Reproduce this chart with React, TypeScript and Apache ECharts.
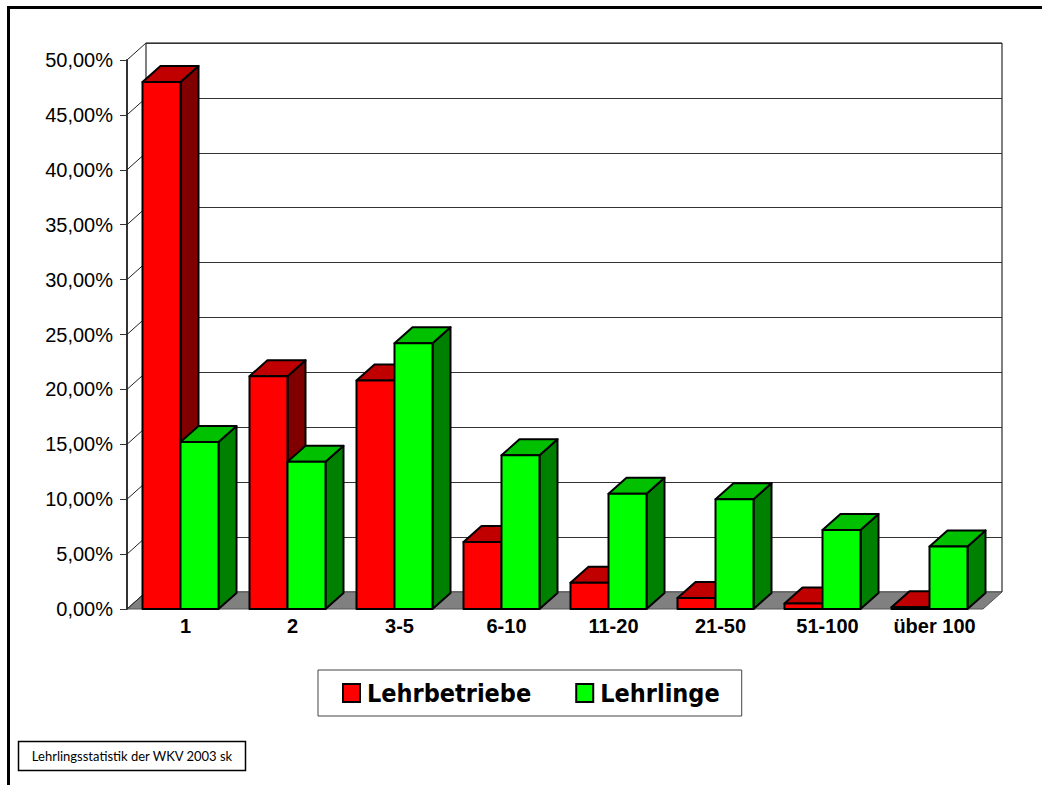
import React, { useEffect, useRef } from "react";
import * as echarts from "echarts";

const categories = ["1", "2", "3-5", "6-10", "11-20", "21-50", "51-100", "über 100"];
const lehrbetriebe = [48.0, 21.2, 20.8, 6.1, 2.4, 1.0, 0.5, 0.15];
const lehrlinge = [15.2, 13.4, 24.2, 14.0, 10.5, 10.0, 7.2, 5.7];
const yTicks = [0, 5, 10, 15, 20, 25, 30, 35, 40, 45, 50];
const seriesNames = ["Lehrbetriebe", "Lehrlinge"];
const footerText = "Lehrlingsstatistik der WKV 2003 sk";

const WALL_DX = 19;
const WALL_DY = 17;
const BAR_DX = 18;
const BAR_DY = 16;
const BAR_RATIO = 38 / 107;

const RED = { front: "#FF0000", side: "#800000", top: "#C00000" };
const GREEN = { front: "#00FF00", side: "#008000", top: "#00C000" };

function makeBarRenderer(side: number, col: { front: string; side: string; top: string }) {
  return (params: any, api: any) => {
    const idx = api.value(0);
    const val = api.value(1);
    const top = api.coord([idx, val]);
    const base = api.coord([idx, 0]);
    const band = api.size([1, 0])[0];
    const bw = band * BAR_RATIO;
    const x0 = side === 0 ? top[0] - bw : top[0];
    const x1 = x0 + bw;
    const yT = top[1];
    const yB = base[1];
    const st = { stroke: "#000", lineWidth: 2, lineJoin: "round" };
    return {
      type: "group",
      children: [
        {
          type: "polygon",
          shape: { points: [[x1, yT], [x1 + BAR_DX, yT - BAR_DY], [x1 + BAR_DX, yB - BAR_DY], [x1, yB]] },
          style: { fill: col.side, ...st },
        },
        {
          type: "polygon",
          shape: { points: [[x0, yT], [x0 + BAR_DX, yT - BAR_DY], [x1 + BAR_DX, yT - BAR_DY], [x1, yT]] },
          style: { fill: col.top, ...st },
        },
        {
          type: "polygon",
          shape: { points: [[x0, yT], [x1, yT], [x1, yB], [x0, yB]] },
          style: { fill: col.front, ...st },
        },
      ],
    };
  };
}

export default function App() {
  const ref = useRef<HTMLDivElement>(null);
  useEffect(() => {
    if (!ref.current) return;
    const chart = echarts.init(ref.current, undefined, { renderer: "svg" });
    const fmt = (v: number) => v.toFixed(2).replace(".", ",") + "%";
    chart.setOption({
      animation: false,
      backgroundColor: "#fff",
      grid: [
        { left: 127, top: 60, right: 59, bottom: 176, show: false },
        { left: 146, top: 43, right: 40, bottom: 193, show: true, backgroundColor: "#fff", borderColor: "#000", borderWidth: 1 },
      ],
      xAxis: [
        {
          type: "category",
          gridIndex: 0,
          data: categories,
          axisLine: { show: false },
          axisTick: { show: false },
          axisLabel: {
            fontFamily: '"Liberation Sans", Arial, sans-serif',
            fontWeight: "bold",
            fontSize: 20,
            color: "#000",
            margin: 7,
            padding: [0, 0, 0, 10],
            interval: 0,
          },
        },
        { type: "category", gridIndex: 1, data: categories, show: false },
      ],
      yAxis: [
        {
          type: "value",
          gridIndex: 0,
          min: 0,
          max: 50,
          interval: 5,
          axisLine: { show: true, lineStyle: { color: "#333", width: 2 } },
          axisTick: { show: true, length: 7, inside: false, lineStyle: { color: "#333", width: 1 } },
          splitLine: { show: false },
          axisLabel: {
            formatter: fmt,
            fontFamily: '"Liberation Sans", Arial, sans-serif',
            fontSize: 20,
            color: "#000",
            margin: 14,
          },
        },
        {
          type: "value",
          gridIndex: 1,
          min: 0,
          max: 50,
          interval: 5,
          axisLine: { show: false },
          axisTick: { show: false },
          axisLabel: { show: false },
          splitLine: { show: true, lineStyle: { color: "#333", width: 1 } },
        },
      ],
      legend: {
        left: 318,
        top: 670,
        orient: "horizontal",
        data: [
          { name: seriesNames[0], icon: "rect", itemStyle: { color: RED.front, borderColor: "#000", borderWidth: 2 } },
          { name: seriesNames[1], icon: "rect", itemStyle: { color: GREEN.front, borderColor: "#000", borderWidth: 2 } },
        ],
        itemWidth: 17,
        itemHeight: 18,
        itemGap: 44,
        padding: [8, 22, 8, 24],
        borderColor: "#444",
        borderWidth: 1,
        backgroundColor: "#fff",
        textStyle: {
          fontFamily: '"DejaVu Sans Condensed", "DejaVu Sans", sans-serif',
          fontWeight: "bold",
          fontSize: 25,
          color: "#000",
          lineHeight: 30,
          padding: [0, 0, 0, 2],
        },
      },
      graphic: [
        { type: "line", shape: { x1: 7, y1: 7.5, x2: 1042, y2: 7.5 }, style: { stroke: "#000", lineWidth: 3 }, z: 100 },
        { type: "line", shape: { x1: 8.5, y1: 6, x2: 8.5, y2: 785 }, style: { stroke: "#000", lineWidth: 3 }, z: 100 },
        {
          type: "rect",
          shape: { x: 18.5, y: 741.5, width: 227, height: 29 },
          style: { fill: "#fff", stroke: "#000", lineWidth: 1.5 },
          z: 100,
        },
        {
          type: "text",
          x: 132,
          y: 756,
          style: {
            text: footerText,
            fontFamily: "Lato, sans-serif",
            fontSize: 13,
            fill: "#000",
            align: "center",
            verticalAlign: "middle",
          },
          z: 101,
        },
      ],
      series: [
        {
          type: "custom",
          name: "floor",
          xAxisIndex: 0,
          yAxisIndex: 0,
          z: 1,
          silent: true,
          data: [[0, 0]],
          renderItem: (params: any, api: any) => {
            const cs = params.coordSys;
            const y0 = api.coord([0, 0])[1];
            return {
              type: "polygon",
              shape: {
                points: [
                  [cs.x, y0],
                  [cs.x + cs.width, y0],
                  [cs.x + cs.width + WALL_DX, y0 - WALL_DY],
                  [cs.x + WALL_DX, y0 - WALL_DY],
                ],
              },
              style: { fill: "#808080", stroke: "#555", lineWidth: 1 },
            };
          },
        },
        {
          type: "custom",
          name: "sidewall",
          xAxisIndex: 0,
          yAxisIndex: 0,
          z: 2,
          silent: true,
          data: yTicks.map((v) => [0, v]),
          renderItem: (params: any, api: any) => {
            const cs = params.coordSys;
            const y = api.coord([0, api.value(1)])[1];
            return {
              type: "line",
              shape: { x1: cs.x, y1: y, x2: cs.x + WALL_DX, y2: y - WALL_DY },
              style: { stroke: "#222", lineWidth: 1 },
            };
          },
        },
        {
          type: "custom",
          name: seriesNames[0],
          xAxisIndex: 0,
          yAxisIndex: 0,
          z: 3,
          itemStyle: { color: RED.front },
          encode: { x: 0, y: 1 },
          data: lehrbetriebe.map((v, i) => [i, v]),
          renderItem: makeBarRenderer(0, RED),
        },
        {
          type: "custom",
          name: seriesNames[1],
          xAxisIndex: 0,
          yAxisIndex: 0,
          z: 4,
          itemStyle: { color: GREEN.front },
          encode: { x: 0, y: 1 },
          data: lehrlinge.map((v, i) => [i, v]),
          renderItem: makeBarRenderer(1, GREEN),
        },
      ],
    });
    return () => chart.dispose();
  }, []);
  return (
    <div
      ref={ref}
      style={{ position: "absolute", left: 0, top: 0, width: 1042, height: 785, background: "#fff" }}
    />
  );
}
